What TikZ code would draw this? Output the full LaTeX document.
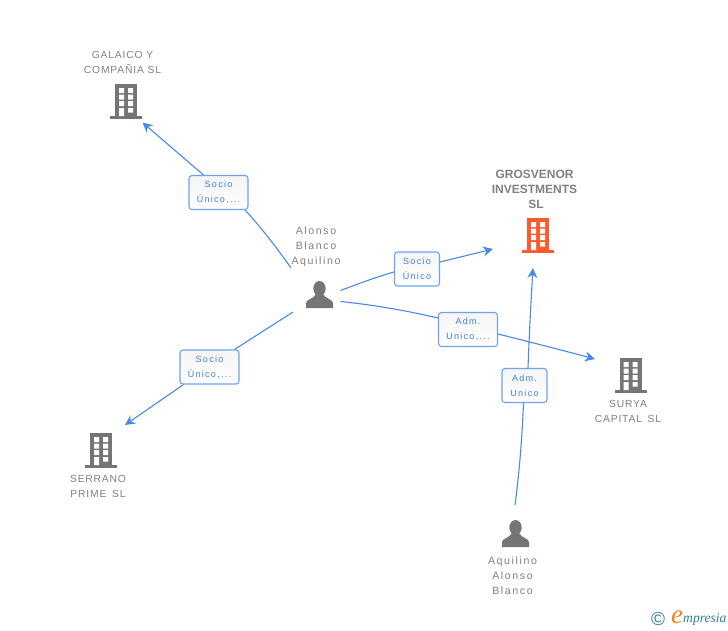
\documentclass[tikz,border=0pt]{standalone}
\usepackage{fontspec}
\setmainfont{Liberation Sans}
\newfontfamily\entfont[LetterSpace=8]{Liberation Sans}
\newfontfamily\namefont[LetterSpace=15]{Liberation Sans}
\newfontfamily\tagfont[LetterSpace=14]{Liberation Sans}
\newfontfamily\logofont{Liberation Serif}
\usetikzlibrary{arrows.meta}
\definecolor{lineblue}{HTML}{4A8AE6}
\definecolor{tagblue}{HTML}{3D7FDF}
\definecolor{boxblue}{HTML}{6EA3EC}
\definecolor{greytext}{HTML}{808080}
\definecolor{icongrey}{HTML}{757575}
\definecolor{iconorange}{HTML}{FF5A2B}
\definecolor{logoteal}{HTML}{2F7F93}
\definecolor{logoorange}{HTML}{F58220}
\tikzset{
  x=1pt,y=-1pt,
  enttext/.style={text=greytext,align=center,inner sep=0pt,font=\entfont\fontsize{10.3}{15}\selectfont},
  nametext/.style={text=greytext,align=center,inner sep=0pt,font=\namefont\fontsize{10.6}{15}\selectfont},
  titletext/.style={text=greytext,align=center,inner sep=0pt,font=\bfseries\fontsize{12}{15}\selectfont},
  tagbox/.style={draw=boxblue,line width=1.1pt,rounded corners=3pt,top color=black!4,bottom color=white,
    text=tagblue,align=center,inner sep=0pt,font=\tagfont\fontsize{9}{15}\selectfont},
  link/.style={draw=lineblue,line width=1.1pt},
  arrowlink/.style={link,-{Stealth[length=10pt,width=10pt]}},
  iconspot/.style={inner sep=0pt,minimum width=32pt,minimum height=34pt},
  pics/building/.style={code={
    \fill[#1] (-11,0) rectangle (11,32);
    \fill[#1] (-16,32) rectangle (16,34.5);
    \fill[white] (-7,4) rectangle (-2,9) (2,4) rectangle (7,9)
                 (-7,10.5) rectangle (-2,15.5) (2,10.5) rectangle (7,15.5)
                 (-7,17) rectangle (-2,22) (2,17) rectangle (7,22)
                 (-7,24) rectangle (-2,32) (2,24) rectangle (7,28.5);
  }},
  pics/person/.style={code={
    \fill[icongrey] (0,7.5) ellipse (6.2 and 7.5);
    \fill[icongrey] (-13.5,27) -- (-13.5,22) .. controls (-13.5,18.5) and (-6,18) .. (-3.5,13)
       -- (3.5,13) .. controls (6,18) and (13.5,18.5) .. (13.5,22) -- (13.5,27) -- cycle;
  }}
}
\begin{document}
\begin{tikzpicture}
\useasboundingbox (0,0) rectangle (728,630);

% icons
\node[iconspot] (galaico) at (126,101) {};
\pic at (126,84) {building=icongrey};
\node[iconspot] (grosvenor) at (538,235) {};
\pic at (538,218) {building=iconorange};
\node[iconspot] (surya) at (630.5,375) {};
\pic at (630.5,358) {building=icongrey};
\node[iconspot] (serrano) at (101,450) {};
\pic at (101,433) {building=icongrey};
\node[iconspot] (alonso) at (319.5,294) {};
\pic at (319.5,281) {person};
\node[iconspot] (aquilino) at (515.5,533) {};
\pic at (515.5,520) {person};

% entity labels
\node[enttext] (tgalaico) at (122.5,62.5) {GALAICO Y\\COMPAÑIA SL};
\node[titletext] (tgrosvenor) at (534.5,189) {GROSVENOR\\INVESTMENTS\\\hspace*{3pt}SL};
\node[nametext] (talonso) at (316,247) {Alonso\\Blanco\\Aquilino};
\node[enttext] (tsurya) at (628,411.5) {SURYA\\CAPITAL\hspace{2pt} SL};
\node[enttext] (tserrano) at (98,486.5) {SERRANO\\PRIME\hspace{2pt} SL};
\node[nametext] (taquilino) at (512.5,576) {Aquilino\\Alonso\\Blanco};

% connector labels
\node[tagbox,minimum width=59pt,minimum height=34pt] (tagA) at (218.5,192.5) {Socio\\Único,...};
\node[tagbox,minimum width=45pt,minimum height=34pt] (tagB) at (417,269) {Socio\\Único};
\node[tagbox,minimum width=59pt,minimum height=34pt] (tagC) at (468,329.5) {Adm.\\Unico,...};
\node[tagbox,minimum width=59pt,minimum height=34pt] (tagD) at (209.5,367) {Socio\\Único,...};
\node[tagbox,minimum width=45pt,minimum height=34pt] (tagE) at (524.5,385.5) {Adm.\\Unico};

% free ends of connectors
\coordinate (a0) at (291,268);
\coordinate (a1) at (142.5,122.5);
\coordinate (b0) at (340.5,290.5);
\coordinate (b1) at (493,249);
\coordinate (c0) at (340.5,301.5);
\coordinate (c1) at (595,359);
\coordinate (d0) at (293,312);
\coordinate (d1) at (125,425);
\coordinate (e0) at (515,505);
\coordinate (e1) at (533,268);

% connectors
\draw[link] (a0) .. controls (275,245) and (258,224) .. ([xshift=-3.5pt]tagA.south east);
\draw[arrowlink] ([xshift=-15pt]tagA.north) -- (a1);
\draw[link] (b0) .. controls (358,284) and (376,277) .. ([yshift=-3pt]tagB.west);
\draw[arrowlink] ([yshift=7pt]tagB.east) -- (b1);
\draw[link] (c0) .. controls (375,305) and (408,311) .. ([yshift=11.5pt]tagC.west);
\draw[arrowlink] ([yshift=-4.5pt]tagC.east) .. controls (530,342) and (565,351) .. (c1);
\draw[link] (d0) -- ([xshift=25pt]tagD.north);
\draw[arrowlink] ([xshift=-26pt]tagD.south) -- (d1);
\draw[link] (e0) .. controls (519,475) and (522,440) .. ([xshift=-1pt]tagE.south);
\draw[arrowlink] ([xshift=3.5pt]tagE.north) .. controls (529,340) and (531,300) .. (e1);

% logo
\node[inner sep=0pt,text=logoteal,font=\fontsize{19}{19}\selectfont] (copy) at (658,618.5) {©};
\node[inner sep=0pt,text=logoorange,font=\logofont\itshape\fontsize{27}{27}\selectfont] (logoe) at (677,617.5) {e};
\node[inner sep=0pt,text=logoteal,font=\logofont\itshape\fontsize{13.6}{14}\selectfont,anchor=west] (logotext) at (683,619.5) {mpresia};
\end{tikzpicture}
\end{document}
